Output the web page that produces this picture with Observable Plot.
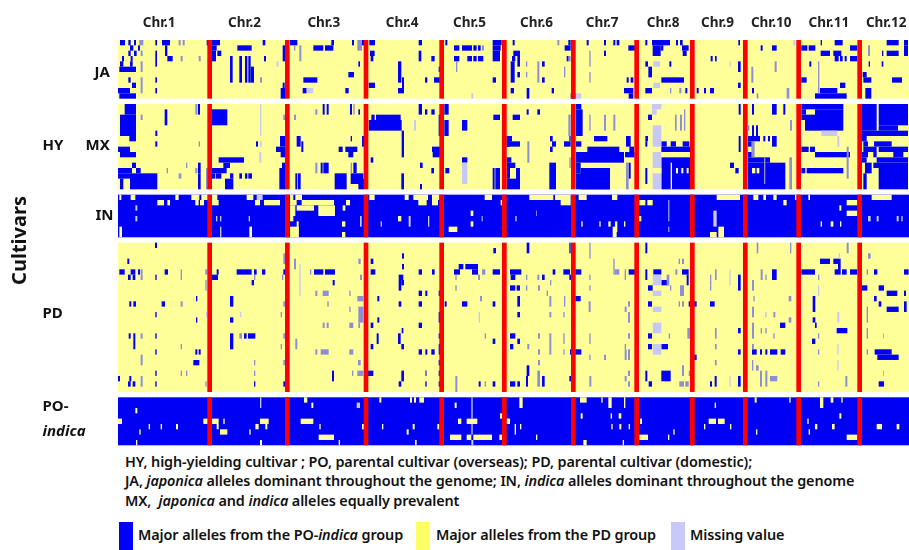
<!DOCTYPE html>
<html><head><meta charset="utf-8">
<script src="https://cdn.jsdelivr.net/npm/d3@7"></script>
<script src="https://cdn.jsdelivr.net/npm/@observablehq/plot@0.6"></script>
<style>
html,body{margin:0;padding:0;background:#fff;width:909px;height:550px;overflow:hidden;position:relative}
#plot svg{display:block;filter:blur(.45px)}
.t{position:absolute;font-family:"Noto Sans",sans-serif;font-weight:600;color:#111;white-space:nowrap;font-size:14.4px;line-height:18px;letter-spacing:-.1px}
.s{position:absolute;top:522px;width:14px;height:28px}
</style></head><body>
<div id="plot"></div>
<div class="t" style="left:125px;top:453px">HY, high-yielding cultivar ; PO, parental cultivar (overseas); PD, parental cultivar (domestic);</div>
<div class="t" style="left:125px;top:472px">JA, <i>japonica</i> alleles dominant throughout the genome; IN, <i>indica</i> alleles dominant throughout the genome</div>
<div class="t" style="left:125px;top:492px">MX,&nbsp; <i>japonica</i> and <i>indica</i> alleles equally prevalent</div>
<div class="s" style="left:119px;background:#0000ff"></div><div class="t" style="left:138px;top:526px">Major alleles from the PO-<i>indica</i> group</div>
<div class="s" style="left:416px;background:#ffff66"></div><div class="t" style="left:436px;top:526px">Major alleles from the PD group</div>
<div class="s" style="left:671px;background:#c8c8fa"></div><div class="t" style="left:690px;top:526px">Missing value</div>
<script>
const chrNames=["Chr.1","Chr.2","Chr.3","Chr.4","Chr.5","Chr.6","Chr.7","Chr.8","Chr.9","Chr.10","Chr.11","Chr.12"];
const chrCenters=[146,402,640,875,1077,1278,1475,1658,1821,1982,2155,2327];
const chrBreaks=[299,532,768,995,1183,1390,1580,1747,1906,2066,2249];
const START=24, END=2397, SHIFT=1170;
// panel: name, first row, number of rows, base allele
const panelNames=["JA","MX","IN","PD","PO"];
const panelStart=[0,12,29,38,67];
const panelRows=[11,16,8,28,9];
const panelBase=["yellow","yellow","blue","yellow","blue"];

// segments: [from, to, firstRow, lastRow]  (a = chr.1-5 half, b = chr.6-12 half)
const JA_blue_a=[[30,45,0,1],[55,62,0,1],[72,78,0,1],[60,70,1,2],[84,90,1,2],[55,62,2,3],[72,80,2,3],[36,42,3,4],[62,68,3,4],[30,40,4,5],[60,68,4,5],[28,78,5,6],[55,62,7,8],[66,78,8,9],[24,60,9,10],[28,78,10,11],[136,141,0,1],[136,141,2,3],[136,141,3,5],[136,141,7,8],[136,141,9,10],[156,180,0,1],[165,172,1,3],[172,188,3,4],[290,296,0,1],[306,330,0,1],[306,320,1,2],[306,318,2,4],[322,334,2,3],[382,425,1,2],[360,368,3,8],[388,396,3,8],[405,412,3,8],[415,422,3,8],[422,432,5,8],[458,466,0,1],[462,468,3,4],[518,526,1,4],[518,524,8,9],[512,526,9,11],[540,562,0,1],[610,640,1,2],[645,670,1,2],[664,672,0,1],[580,622,7,8],[578,590,9,10],[715,732,6,7],[706,716,9,10],[726,732,0,1],[752,762,0,1],[745,750,4,5],[778,795,0,1],[780,794,2,3],[782,790,3,4],[776,795,8,9],[864,874,4,8],[876,882,7,9],[864,882,9,10],[926,936,0,1],[926,934,2,4],[945,952,7,8],[964,974,3,4],[972,990,7,8],[986,994,5,6],[1006,1012,0,1],[1032,1048,1,2],[1056,1086,1,2],[1090,1100,1,2],[1104,1112,1,2],[1032,1048,3,4],[1072,1086,3,4],[1090,1100,3,4],[1104,1120,3,4],[1148,1175,0,1],[1148,1172,1,2],[1148,1170,2,4],[1148,1158,7,8]];
const JA_thin_a=[[88,100,0,1],[92,98,2,3],[92,98,4,6],[206,212,0,1],[218,224,0,1],[212,218,3,4],[266,272,3,4],[92,98,7,10],[450,456,7,8],[552,556,1,2],[568,574,1,4],[742,756,0,2],[1116,1122,1,2],[1038,1042,4,6]];
const JA_missing_a=[[500,506,4,5],[590,610,9,10],[1084,1090,10,11]];
const JA_blue_b=[[38,44,0,1],[194,212,1,2],[205,212,0,1],[40,60,2,3],[36,46,3,4],[32,44,4,8],[52,60,3,5],[52,60,6,7],[126,134,4,5],[126,134,7,8],[32,42,9,10],[80,88,9,11],[155,162,9,10],[200,206,3,4],[212,226,10,11],[260,266,0,1],[312,318,0,1],[312,318,2,3],[340,346,0,1],[350,358,0,1],[385,405,1,2],[380,386,7,8],[392,400,7,8],[372,400,9,10],[386,400,10,11],[436,442,0,1],[456,510,0,1],[458,482,1,3],[482,490,1,2],[528,534,0,1],[540,548,0,1],[546,566,1,2],[548,560,2,3],[436,444,4,5],[508,514,4,5],[445,456,5,7],[484,552,7,8],[436,456,9,10],[556,562,9,10],[590,596,9,10],[612,618,9,10],[630,642,9,10],[632,638,3,4],[645,650,3,4],[715,720,0,1],[714,722,4,6],[714,722,8,9],[782,788,1,2],[816,830,1,2],[756,762,9,10],[904,922,1,2],[926,946,1,2],[962,966,0,1],[1004,1028,0,1],[1050,1072,1,2],[962,990,2,3],[1000,1024,2,3],[1004,1016,3,4],[1020,1028,3,4],[1034,1040,3,4],[1050,1072,3,4],[928,934,4,5],[904,920,7,8],[1020,1036,8,9],[960,1012,9,10],[945,1040,10,11],[1160,1196,0,1],[1212,1224,0,1],[1160,1196,2,3],[1212,1224,1,3],[1146,1150,2,3],[1106,1110,4,5],[1145,1150,4,5],[1088,1100,6,7],[1090,1114,7,8],[1176,1206,7,8],[1096,1114,9,11]];
const JA_thin_b=[[172,178,0,1],[78,82,4,5],[78,82,6,7],[112,118,4,8],[192,196,5,7],[206,212,3,4],[268,272,2,5],[268,272,6,8],[510,514,9,10],[538,544,9,10],[754,760,5,8],[824,830,4,6],[770,775,10,11],[860,868,9,11],[954,958,4,10],[1104,1110,1,3]];
const JA_missing_b=[[228,244,10,11],[460,480,4,5],[460,480,8,9],[688,692,4,5],[880,886,0,1]];

const MX_blue_a=[[44,78,0,2],[30,78,2,6],[58,78,6,7],[164,172,1,4],[136,142,5,6],[136,142,7,8],[264,270,0,2],[24,60,8,9],[30,78,9,10],[66,78,11,12],[24,66,12,13],[78,92,12,13],[24,60,13,14],[60,142,13,16],[30,40,14,16],[264,272,11,13],[264,272,13,16],[306,352,1,4],[438,444,7,8],[326,402,10,11],[340,360,11,12],[306,350,12,13],[318,334,13,14],[345,370,14,16],[360,370,13,14],[306,316,13,14],[388,396,13,14],[405,412,13,14],[415,426,13,14],[510,526,6,8],[498,526,8,9],[512,526,9,10],[516,526,11,12],[508,526,12,16],[560,572,6,8],[574,580,7,9],[564,572,13,16],[556,562,13,16],[638,644,0,2],[650,656,0,2],[720,726,0,2],[745,750,1,2],[722,726,6,7],[686,698,8,9],[706,742,8,9],[715,730,9,10],[632,638,11,13],[640,656,11,13],[674,710,13,16],[722,760,13,15],[730,740,11,13],[745,762,14,16],[756,762,6,8],[776,875,3,5],[784,794,2,3],[798,872,2,3],[875,882,5,10],[874,882,13,16],[782,790,10,11],[926,936,0,2],[945,952,1,2],[964,974,1,2],[966,990,8,9],[968,990,9,10],[930,938,11,12],[964,972,12,13],[930,936,15,16],[986,994,2,6],[1003,1016,0,2],[1003,1016,3,6],[1056,1072,3,5],[1150,1170,2,3],[1006,1018,12,13],[1056,1072,10,11],[1148,1154,12,16],[1156,1170,12,16],[1190,1200,6,8]];
const MX_thin_a=[[92,98,2,3],[256,262,0,2],[266,270,7,8],[228,232,11,12],[170,174,12,13],[206,214,13,14],[256,262,12,13],[288,296,12,16],[520,526,2,3],[552,558,2,3],[616,622,1,2],[730,734,0,2],[616,622,11,13],[722,726,11,13]];
const MX_missing_a=[[450,454,0,6],[450,455,7,8],[448,454,9,11],[912,918,3,5],[1056,1072,11,15]];
const MX_blue_b=[[38,60,2,3],[80,86,1,2],[112,120,1,2],[20,36,6,7],[20,60,7,8],[150,158,6,7],[156,168,7,8],[150,158,8,9],[192,212,7,8],[208,212,6,7],[20,34,10,11],[20,30,11,12],[30,46,11,12],[148,168,11,16],[20,60,14,16],[48,60,12,15],[20,30,12,14],[228,244,0,1],[228,248,1,6],[282,322,6,7],[228,244,7,8],[378,392,6,8],[262,358,8,9],[228,372,9,11],[375,404,9,10],[388,402,8,9],[228,242,11,13],[242,330,12,16],[228,330,13,16],[386,392,11,14],[444,456,2,3],[436,444,6,7],[436,442,7,8],[484,500,7,8],[512,528,7,8],[548,568,7,8],[484,572,8,9],[484,572,10,16],[436,442,12,15],[716,722,0,2],[716,722,6,9],[690,702,11,12],[706,716,12,13],[756,762,0,2],[816,830,0,2],[850,856,0,2],[756,762,4,6],[768,774,4,6],[744,780,6,7],[790,796,6,7],[804,810,6,7],[816,830,6,8],[744,760,7,8],[744,760,9,10],[744,810,10,11],[744,856,11,16],[904,1030,0,1],[904,918,1,2],[945,1030,1,3],[904,945,2,3],[915,1030,3,5],[904,926,8,9],[930,945,8,9],[945,1050,9,10],[904,916,12,13],[920,1030,12,13],[1086,1130,0,5],[1136,1224,0,4],[1136,1194,4,5],[1086,1224,5,6],[1086,1100,6,7],[1090,1104,7,8],[1122,1175,7,8],[1090,1130,8,9],[1136,1224,8,9],[1086,1104,9,10],[1120,1130,9,10],[1180,1210,9,10],[1086,1100,10,11],[1130,1224,10,11],[1095,1115,11,13],[1120,1224,11,12],[1136,1224,12,16],[1090,1100,13,16]];
const MX_thin_b=[[205,212,2,6],[82,88,7,11],[208,212,10,12],[268,272,2,5],[312,318,2,5],[340,346,2,5],[378,386,11,16],[525,530,2,5],[540,546,2,5],[552,556,1,5],[744,748,4,5],[870,876,3,5],[754,764,7,10],[792,796,10,15],[868,876,10,16],[1040,1046,8,14]];
const MX_missing_b=[[456,484,0,1],[456,470,1,2],[458,484,4,8],[458,484,9,16],[964,1012,5,6],[1012,1018,6,8]];
const MX_yellow_b=[[512,516,11,16],[528,534,12,13],[544,550,12,13],[560,566,12,13],[756,766,12,13],[770,778,12,13],[458,484,12,13]];

const IN_yellow_a=[[28,34,0,1],[62,76,0,1],[196,206,0,1],[244,268,0,1],[274,296,0,1],[306,322,0,1],[142,162,1,2],[172,180,1,2],[256,266,1,2],[270,282,1,2],[306,326,1,2],[410,430,0,1],[435,450,1,2],[462,510,1,2],[540,550,0,1],[556,576,0,1],[540,560,1,2],[575,672,1,2],[708,720,1,2],[540,556,2,4],[560,612,2,3],[625,675,2,4],[540,550,4,5],[560,566,5,8],[540,566,6,8],[698,706,2,3],[696,706,5,6],[696,706,7,8],[778,794,0,1],[884,896,0,1],[910,954,0,1],[966,988,0,1],[925,950,1,2],[966,984,1,2],[864,874,4,5],[1016,1042,6,7],[1124,1146,0,1],[1082,1090,3,4],[1082,1090,5,6],[28,36,6,8],[418,426,6,8],[1172,1176,1,2]];
const IN_missing_a=[[440,458,0,1],[76,82,2,3],[76,82,4,5],[896,902,4,6],[954,958,4,6],[812,816,5,6],[1115,1118,4,5],[330,334,4,5],[318,322,4,5],[416,420,4,5],[330,334,6,8],[750,755,4,6]];
const IN_yellow_b=[[88,160,0,1],[165,212,0,1],[236,260,0,1],[336,352,0,1],[650,720,0,1],[760,775,0,1],[790,798,0,1],[820,830,0,1],[885,890,0,1],[925,930,0,1],[1115,1175,0,1],[182,212,1,2],[418,436,1,2],[442,458,1,2],[850,860,1,2],[1040,1072,1,2],[1018,1024,2,3],[1040,1072,3,4],[244,248,5,6],[298,302,5,6],[325,332,5,6],[345,352,5,7],[338,350,6,8],[372,376,5,6],[410,424,4,5],[630,650,7,8],[655,672,6,8],[962,966,5,6],[992,1000,5,6],[1020,1024,5,6]];
const IN_missing_b=[[505,508,1,5],[505,508,6,7],[640,650,3,6],[1104,1112,4,5],[1130,1136,4,5],[1190,1196,4,5],[1204,1208,4,5],[46,50,4,5],[108,110,3,4]];

const PD_blue_a=[[135,141,0,1],[52,58,3,4],[28,44,5,6],[62,76,5,6],[84,90,5,6],[164,174,5,6],[320,326,5,6],[380,425,5,6],[432,440,5,6],[456,466,5,6],[520,526,5,6],[612,640,5,6],[645,675,5,6],[782,796,5,6],[54,62,6,7],[68,76,6,7],[136,140,6,7],[306,324,6,7],[425,432,7,8],[668,674,7,8],[258,262,10,11],[360,370,10,12],[58,64,11,12],[70,78,11,12],[155,165,11,12],[136,140,13,14],[360,370,14,15],[258,262,14,15],[56,62,17,18],[70,76,17,20],[136,140,17,18],[360,370,17,20],[402,410,17,18],[414,436,17,18],[136,140,20,21],[256,262,20,21],[266,272,20,21],[250,268,22,23],[136,140,24,25],[24,30,25,26],[58,64,25,26],[54,62,26,27],[68,76,26,27],[136,140,26,27],[432,436,26,27],[520,526,26,27],[666,672,24,26],[770,790,24,25],[782,790,3,4],[876,882,2,3],[876,882,4,5],[866,880,6,7],[874,882,7,8],[866,874,7,9],[802,808,10,11],[866,874,11,12],[802,808,14,15],[782,790,15,16],[800,806,17,19],[875,880,16,17],[864,872,17,19],[874,882,19,20],[782,790,19,20],[874,882,24,26],[866,874,26,27],[926,936,5,6],[966,974,5,6],[926,936,9,10],[946,952,9,10],[926,936,11,12],[926,936,15,16],[926,936,20,21],[946,952,20,21],[964,974,20,21],[946,950,24,25],[946,950,26,27],[986,990,9,10],[986,990,13,15],[986,990,17,18],[986,990,19,21],[986,990,22,23],[986,990,24,25],[986,990,26,27],[1150,1158,1,2],[1046,1060,4,5],[1066,1104,4,5],[1032,1050,5,6],[1086,1104,5,6],[1148,1170,5,6],[1004,1010,11,12],[1056,1072,11,12],[1148,1156,11,12],[1148,1156,18,19],[1106,1112,26,27],[1148,1156,26,27]];
const PD_thin_a=[[92,98,5,6],[212,216,5,7],[286,292,5,6],[92,98,6,7],[286,290,7,9],[432,436,6,7],[516,520,6,7],[212,218,11,12],[520,526,11,12],[512,516,13,14],[92,98,17,18],[388,396,17,18],[520,526,17,18],[212,216,19,20],[512,516,19,20],[92,98,21,23],[432,436,22,23],[520,526,22,23],[212,216,24,25],[228,232,24,25],[432,436,24,25],[92,98,25,27],[286,290,26,27],[520,526,2,4],[552,558,3,5],[556,562,18,20],[600,604,5,6],[616,622,9,10],[638,656,9,10],[718,722,9,10],[652,656,11,12],[718,722,12,13],[638,644,15,16],[650,656,15,16],[718,730,15,16],[745,750,15,16],[616,622,20,21],[632,656,20,21],[718,730,20,21],[726,730,24,25],[742,760,24,25],[744,752,22,23],[742,760,10,11],[745,760,12,15],[745,752,3,4],[750,756,6,7],[946,950,24,25],[1036,1040,6,7],[1104,1110,6,7],[1116,1126,5,6],[1036,1040,8,9],[1110,1116,10,11],[1124,1128,17,18],[1036,1042,25,28],[1124,1128,26,27]];
const PD_missing_a=[[568,572,4,10],[288,292,13,14],[390,394,13,14],[1106,1110,13,15]];
const PD_blue_b=[[80,88,0,2],[208,212,0,2],[30,64,5,6],[32,46,6,7],[158,166,5,6],[190,210,5,6],[226,244,5,6],[208,214,6,7],[126,134,6,7],[30,46,8,9],[50,60,8,9],[52,60,10,12],[226,242,10,11],[52,60,13,14],[30,46,17,18],[52,60,18,19],[30,40,19,20],[210,216,20,21],[226,244,20,21],[80,88,23,25],[78,84,25,27],[126,134,25,27],[30,46,26,27],[52,60,26,27],[208,214,25,26],[386,406,5,6],[436,442,0,2],[436,442,5,7],[460,484,5,6],[546,566,5,6],[560,566,6,8],[484,506,7,8],[444,458,8,9],[444,456,11,12],[566,590,11,12],[444,456,17,18],[444,456,19,20],[484,504,19,20],[484,512,24,26],[436,442,24,26],[446,456,26,27],[582,590,21,22],[630,644,11,12],[714,722,16,17],[714,722,20,21],[714,722,6,9],[714,722,25,27],[630,636,26,27],[644,650,25,27],[816,830,5,7],[840,856,15,16],[810,832,20,21],[842,856,20,21],[756,770,20,21],[780,786,20,21],[796,802,20,21],[904,945,5,6],[960,990,3,4],[1000,1022,3,4],[1014,1022,4,6],[1004,1014,5,6],[1026,1040,5,6],[1050,1072,5,6],[938,946,10,13],[938,946,14,15],[945,950,15,16],[936,946,18,19],[1010,1042,16,17],[1122,1132,5,6],[1212,1226,5,6],[1086,1102,8,9],[1136,1152,8,9],[1160,1192,9,10],[1212,1218,9,10],[1122,1130,10,11],[1136,1144,11,12],[1160,1196,12,13],[1212,1220,11,13],[1124,1175,20,21],[1132,1196,21,22],[1136,1152,26,27]];
const PD_thin_b=[[78,82,6,7],[112,118,6,7],[78,82,8,9],[114,120,8,9],[268,272,8,9],[150,154,7,8],[140,144,9,10],[148,154,10,12],[192,196,10,12],[148,154,13,14],[190,194,13,14],[114,120,17,18],[148,154,17,21],[190,194,17,19],[82,88,19,20],[114,120,20,21],[190,194,20,21],[114,120,22,23],[112,120,24,27],[268,272,0,3],[268,272,6,7],[340,344,3,6],[344,358,5,6],[374,378,5,7],[266,272,11,13],[384,390,11,12],[374,380,12,13],[384,390,13,15],[268,272,17,19],[384,390,17,18],[374,378,19,20],[374,380,20,22],[312,318,21,22],[268,272,21,22],[384,390,20,22],[384,390,24,25],[374,380,25,26],[384,390,26,27],[268,274,25,27],[536,540,3,4],[546,552,3,4],[526,532,5,6],[500,508,6,8],[510,514,8,9],[540,552,8,10],[536,540,11,12],[546,552,11,12],[506,510,17,18],[562,570,16,18],[546,552,23,25],[566,570,24,25],[538,552,26,27],[556,566,26,27],[630,634,6,8],[645,650,5,7],[630,634,8,9],[645,650,16,18],[645,650,19,20],[645,650,22,23],[770,775,0,2],[870,874,0,2],[756,762,7,9],[782,788,5,7],[796,800,6,7],[760,764,10,11],[756,762,12,14],[756,762,15,18],[782,786,16,17],[796,800,16,17],[820,826,13,14],[820,824,17,18],[756,762,19,20],[756,760,22,24],[768,776,23,24],[780,786,24,27],[796,802,24,27],[810,832,25,26],[866,874,10,11],[866,874,14,15],[954,958,6,7],[954,958,17,18],[954,958,20,21],[954,958,26,27],[1036,1042,25,27],[1040,1046,0,2],[1104,1112,2,3],[1100,1104,5,6],[1100,1104,12,15],[1100,1104,16,18],[1150,1152,17,18],[1150,1152,24,25],[1100,1104,20,21]];
const PD_missing_b=[[458,484,6,8],[458,484,9,10],[458,484,12,13],[458,484,15,17],[458,484,19,21],[688,692,5,8],[688,692,25,27],[795,800,13,14],[1016,1020,2,3],[954,958,8,10],[1012,1018,13,15],[1012,1016,19,21],[1012,1016,22,24]];

const PO_yellow_a=[[582,592,0,1],[604,610,1,2],[808,814,0,1],[900,906,0,1],[912,918,0,1],[928,942,0,1],[1034,1040,1,2],[76,82,2,3],[24,36,4,5],[280,326,4,5],[340,344,4,5],[450,476,4,5],[572,610,4,5],[1044,1054,4,5],[1070,1102,4,5],[1190,1196,4,5],[116,120,5,6],[152,156,5,6],[198,204,5,6],[320,326,5,6],[436,446,5,6],[466,472,5,6],[628,632,5,6],[756,762,5,6],[816,820,5,6],[908,914,5,6],[982,988,5,6],[88,92,6,7],[330,352,6,7],[418,422,6,7],[890,896,6,7],[626,672,7,8],[1020,1054,7,8],[1070,1084,7,8],[1090,1146,7,8],[1168,1176,7,8],[78,82,8,9],[450,456,8,9],[686,690,8,9],[915,920,8,9]];
const PO_missing_a=[[450,454,0,2],[740,750,1,2],[1084,1088,0,4],[1084,1088,5,7],[1084,1090,8,9]];
const PO_yellow_b=[[58,68,0,2],[240,260,0,1],[304,308,0,1],[325,335,0,2],[372,376,0,2],[644,648,1,2],[764,770,0,1],[868,872,0,1],[960,970,0,2],[992,1000,0,1],[1024,1028,0,1],[0,6,3,4],[20,30,4,5],[242,248,3,4],[332,336,3,4],[356,364,3,4],[420,426,4,5],[626,648,4,5],[654,674,4,5],[1018,1024,3,4],[44,48,5,7],[60,64,5,6],[334,338,5,6],[358,364,5,6],[386,390,5,6],[945,952,5,6],[996,1004,5,6],[1130,1146,5,6],[1190,1198,5,6],[690,694,5,6],[768,772,6,7],[520,524,6,7],[418,444,7,8],[108,112,7,8],[504,508,7,8],[1040,1072,7,8],[250,260,8,9],[368,372,8,9],[922,926,4,5],[612,616,5,6],[926,930,6,7]];

const kinds=["yellow","blue","thin","missing","red"];
const kindColors=["#ffff99","#0000f5","#8e8ed6","#c8c8f6","#ff0000"];
const cells=[];
const add=(list,kind,p,shift)=>{ for(const [a,b,r1,r2] of list) cells.push({x1:a+shift,x2:b+shift,y1:panelStart[p]+r1,y2:panelStart[p]+r2,kind}); };
panelNames.forEach((n,p)=>add([[START,END,0,panelRows[p]]],panelBase[p],p,0));
add(JA_blue_a,"blue",0,0);add(JA_thin_a,"thin",0,0);add(JA_missing_a,"missing",0,0);
add(JA_blue_b,"blue",0,SHIFT);add(JA_thin_b,"thin",0,SHIFT);add(JA_missing_b,"missing",0,SHIFT);
add(MX_blue_a,"blue",1,0);add(MX_thin_a,"thin",1,0);add(MX_missing_a,"missing",1,0);
add(MX_blue_b,"blue",1,SHIFT);add(MX_thin_b,"thin",1,SHIFT);add(MX_missing_b,"missing",1,SHIFT);add(MX_yellow_b,"yellow",1,SHIFT);
add(IN_yellow_a,"yellow",2,0);add(IN_missing_a,"missing",2,0);
add(IN_yellow_b,"yellow",2,SHIFT);add(IN_missing_b,"missing",2,SHIFT);
add(PD_blue_a,"blue",3,0);add(PD_thin_a,"thin",3,0);add(PD_missing_a,"missing",3,0);
add(PD_blue_b,"blue",3,SHIFT);add(PD_thin_b,"thin",3,SHIFT);add(PD_missing_b,"missing",3,SHIFT);
add(PO_yellow_a,"yellow",4,0);add(PO_missing_a,"missing",4,0);
add(PO_yellow_b,"yellow",4,SHIFT);
panelNames.forEach((n,p)=>add(chrBreaks.map(c=>[c-7,c+7,0,panelRows[p]]),"red",p,0));

const sideLabels=[
 {t:"JA",x:-48,y:6},{t:"MX",x:-75,y:19.7},{t:"HY",x:-204,y:19.7},{t:"IN",x:-45,y:32.8},{t:"PD",x:-204,y:51.2},{t:"PO-",x:-204,y:68.5}
];
const fontFamily='"Noto Sans",sans-serif';
const chart=Plot.plot({
  width:909,height:450,marginLeft:118,marginRight:0,marginTop:40,marginBottom:4.7,
  style:{background:"transparent",fontFamily,overflow:"visible"},
  x:{domain:[START,END],axis:null},
  y:{domain:[0,76],reverse:true,axis:null},
  color:{domain:kinds,range:kindColors},
  marks:[
    Plot.rect(cells,{x1:"x1",x2:"x2",y1:"y1",y2:"y2",fill:"kind"}),
    Plot.axisX({anchor:"top",ticks:chrCenters,tickFormat:d=>chrNames[chrCenters.indexOf(d)],tickSize:0,tickPadding:14,fontWeight:"700",fontSize:13.5,label:null,color:"#222"}),
    Plot.text(sideLabels,{x:"x",y:"y",text:"t",fontSize:15,fontWeight:"700",textAnchor:"start",fill:"#111"}),
    Plot.text(["indica"],{x:[-204],y:[73.3],text:d=>d,fontSize:15,fontWeight:"700",fontStyle:"italic",textAnchor:"start",fill:"#111"}),
    Plot.text(["Cultivars"],{x:[-273],y:[37.5],text:d=>d,fontSize:20,fontWeight:"700",rotate:-90,fill:"#111"})
  ]
});
document.getElementById("plot").append(chart);
</script></body></html>
